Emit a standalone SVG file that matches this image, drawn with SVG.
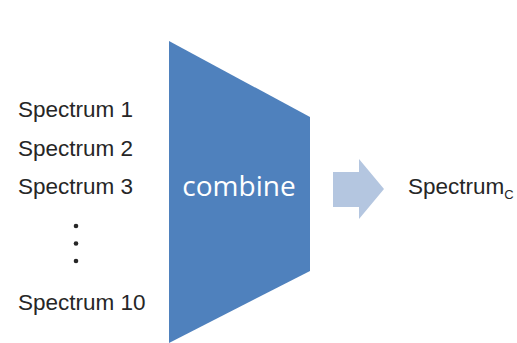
<svg xmlns="http://www.w3.org/2000/svg" width="517" height="343" viewBox="0 0 517 343">
<style>
.lbl{font-family:"Liberation Sans",Arial,sans-serif;font-size:22.5px;fill:#262626}
</style>
<rect width="517" height="343" fill="#ffffff"/>
<g id="inputs">
<text class="lbl" x="18" y="117">Spectrum 1</text>
<text class="lbl" x="18" y="156">Spectrum 2</text>
<text class="lbl" x="18" y="194">Spectrum 3</text>
<circle cx="76" cy="226" r="2.3" fill="#262626"/>
<circle cx="76" cy="243.5" r="2.3" fill="#262626"/>
<circle cx="76" cy="261" r="2.3" fill="#262626"/>
<text class="lbl" x="18" y="310">Spectrum 10</text>
</g>
<g id="combine">
<polygon points="169,41 310,117 310,271 169,343" fill="#4f81bd"/>
<text x="239" y="196" text-anchor="middle" font-family="'Open Sans','Noto Sans',sans-serif" font-size="28" fill="#ffffff">combine</text>
</g>
<g id="connectors">
<polygon points="333,172 359,172 359,159 384,189 359,219 359,207 333,207" fill="#b4c6e0"/>
</g>
<g id="output">
<text class="lbl" x="408" y="194">Spectrum<tspan font-size="13" dy="5">C</tspan></text>
</g>
</svg>
